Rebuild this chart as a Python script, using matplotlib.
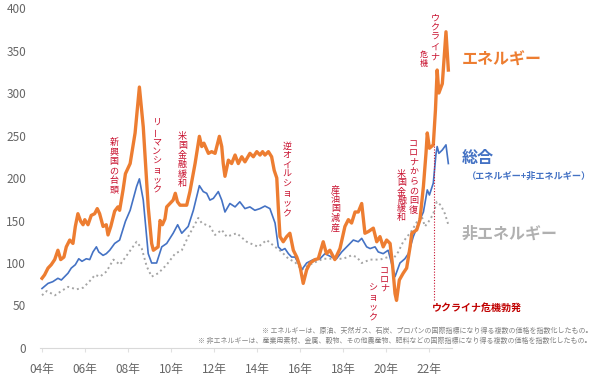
import matplotlib
matplotlib.use("Agg")
import matplotlib.pyplot as plt

plt.rcParams['font.family'] = ['Noto Sans CJK JP', 'DejaVu Sans']

# energy index (orange)
energy_t = [2004.0, 2004.12, 2004.28, 2004.43, 2004.59, 2004.74, 2004.87, 2005.02, 2005.13, 2005.29,
            2005.44, 2005.55, 2005.67, 2005.8, 2005.91, 2005.99, 2006.14, 2006.29, 2006.45, 2006.57,
            2006.68, 2006.84, 2006.99, 2007.07, 2007.2, 2007.38, 2007.53, 2007.61, 2007.77, 2007.88,
            2008.1, 2008.33, 2008.53, 2008.71, 2008.94, 2009.1, 2009.18, 2009.4, 2009.49, 2009.6,
            2009.72, 2009.8, 2010.1, 2010.2, 2010.3, 2010.42, 2010.73, 2010.88, 2011.12, 2011.32,
            2011.43, 2011.53, 2011.74, 2011.89, 2012.05, 2012.25, 2012.36, 2012.43, 2012.51, 2012.67,
            2012.82, 2012.98, 2013.13, 2013.29, 2013.44, 2013.67, 2013.83, 2013.99, 2014.14, 2014.26,
            2014.37, 2014.53, 2014.68, 2014.8, 2014.92, 2014.99, 2015.07, 2015.22, 2015.38, 2015.53,
            2015.69, 2015.85, 2016.0, 2016.15, 2016.31, 2016.47, 2016.7, 2016.85, 2017.08, 2017.23,
            2017.39, 2017.62, 2017.86, 2018.09, 2018.25, 2018.4, 2018.56, 2018.71, 2018.87, 2019.02,
            2019.18, 2019.41, 2019.57, 2019.72, 2019.87, 2020.03, 2020.19, 2020.31, 2020.42, 2020.49,
            2020.62, 2020.8, 2020.96, 2021.12, 2021.2, 2021.43, 2021.58, 2021.74, 2021.86, 2021.92,
            2022.02, 2022.2, 2022.3, 2022.38, 2022.46, 2022.62, 2022.79, 2022.9]
energy_v = [82, 86, 94, 98, 104, 115, 104, 107, 119, 127,
            123, 143, 158, 149, 145, 151, 145, 156, 158, 164,
            158, 143, 145, 133, 143, 161, 166, 162, 186, 205,
            217, 253, 307, 260, 166, 123, 115, 119, 150, 145,
            152, 166, 174, 182, 172, 168, 168, 184, 217, 249,
            237, 241, 229, 231, 229, 249, 237, 217, 202, 221,
            217, 227, 217, 225, 219, 229, 225, 231, 227, 231,
            227, 231, 225, 209, 200, 166, 131, 125, 131, 135,
            115, 107, 96, 76, 92, 100, 104, 105, 125, 111,
            115, 104, 117, 143, 151, 147, 160, 160, 170, 135,
            137, 141, 125, 131, 119, 127, 123, 96, 64, 56,
            80, 88, 94, 119, 135, 139, 151, 190, 229, 253,
            235, 239, 280, 327, 300, 311, 372, 327]

# total index (blue)
total_t = [2004.0, 2004.28, 2004.5, 2004.74, 2004.9, 2005.21, 2005.36, 2005.55, 2005.71, 2005.86,
           2006.06, 2006.22, 2006.37, 2006.53, 2006.64, 2006.84, 2006.99, 2007.15, 2007.38, 2007.61,
           2007.88, 2008.1, 2008.4, 2008.53, 2008.71, 2008.94, 2009.1, 2009.33, 2009.57, 2009.8,
           2010.1, 2010.31, 2010.5, 2010.8, 2011.04, 2011.32, 2011.5, 2011.66, 2011.81, 2011.97,
           2012.2, 2012.36, 2012.51, 2012.74, 2012.98, 2013.2, 2013.44, 2013.67, 2013.9, 2014.14,
           2014.37, 2014.6, 2014.84, 2014.99, 2015.15, 2015.3, 2015.46, 2015.61, 2015.77, 2016.08,
           2016.31, 2016.62, 2016.93, 2017.16, 2017.47, 2017.7, 2017.94, 2018.25, 2018.48, 2018.71,
           2018.87, 2019.1, 2019.26, 2019.49, 2019.64, 2019.87, 2020.1, 2020.42, 2020.65, 2020.88,
           2021.04, 2021.27, 2021.58, 2021.74, 2021.92, 2022.02, 2022.2, 2022.32, 2022.38, 2022.46,
           2022.62, 2022.79, 2022.9]
total_v = [70, 76, 78, 82, 80, 88, 94, 98, 105, 102,
           105, 104, 113, 119, 113, 109, 111, 115, 123, 127,
           149, 162, 190, 199, 174, 111, 100, 100, 119, 123,
           135, 145, 135, 143, 162, 191, 184, 182, 174, 176,
           184, 174, 160, 170, 166, 172, 164, 166, 162, 164,
           167, 164, 147, 119, 115, 117, 111, 107, 107, 92,
           100, 104, 105, 111, 107, 105, 113, 121, 127, 125,
           129, 119, 117, 119, 113, 111, 115, 84, 100, 105,
           111, 131, 151, 160, 186, 180, 194, 227, 237, 229,
           233, 239, 217]

# non-energy index (grey, dotted)
nonen_t = [2004.0, 2004.22, 2004.6, 2004.9, 2005.22, 2005.6, 2005.92, 2006.23, 2006.47, 2006.7,
           2007.0, 2007.32, 2007.63, 2007.86, 2008.17, 2008.4, 2008.64, 2008.87, 2009.1, 2009.41,
           2009.8, 2010.19, 2010.5, 2010.8, 2011.27, 2011.43, 2011.81, 2012.05, 2012.36, 2012.59,
           2013.06, 2013.52, 2014.06, 2014.45, 2014.84, 2015.15, 2015.46, 2015.77, 2016.08, 2016.31,
           2016.62, 2017.08, 2017.55, 2018.01, 2018.4, 2018.64, 2018.87, 2019.26, 2019.72, 2020.1,
           2020.34, 2020.57, 2020.8, 2021.2, 2021.43, 2021.66, 2021.81, 2022.05, 2022.2, 2022.36,
           2022.55, 2022.74, 2022.9]
nonen_v = [62, 67, 62, 67, 72, 69, 71, 79, 86, 84,
           90, 104, 98, 106, 117, 125, 117, 96, 84, 88,
           98, 111, 115, 131, 153, 147, 143, 133, 139, 131,
           135, 125, 119, 127, 119, 113, 105, 101, 92, 96,
           100, 105, 105, 105, 109, 107, 100, 104, 104, 107,
           105, 113, 125, 138, 148, 155, 143, 151, 158, 172,
           168, 158, 145]

years = [2004, 2006, 2008, 2010, 2012, 2014, 2016, 2018, 2020, 2022]
year_labels = ['04年', '06年', '08年', '10年', '12年', '14年', '16年', '18年', '20年', '22年']
ukraine_date = 2022.25

ORANGE = '#ED7D31'
BLUE = '#4472C4'
GREY = '#A5A5A5'
RED = '#C8102E'

fig = plt.figure(figsize=(6, 3.75), dpi=100)
ax = fig.add_axes([40/600, 1 - 348/375, 412/600, 340/375])

ax.plot(nonen_t, nonen_v, color=GREY, lw=1.4, ls=(0, (1, 1.6)))
ax.plot(total_t, total_v, color=BLUE, lw=1.2)
ax.plot(energy_t, energy_v, color=ORANGE, lw=2.4, solid_joinstyle='round')
ax.vlines(ukraine_date, 56, 240, color=RED, lw=0.8, ls=(0, (1, 1.5)))

ax.set_ylim(0, 400)
ax.set_xlim(2003.907, 2023.07)
ax.set_yticks(range(0, 401, 50))
ax.set_xticks(years)
ax.set_xticklabels(year_labels)
ax.tick_params(axis='y', length=0, pad=10, labelsize=8.5, labelcolor='#666666')
ax.tick_params(axis='x', length=3, color='#E0E0E0', pad=8, labelsize=8.5, labelcolor='#666666')
for s in ['top', 'right', 'left']:
    ax.spines[s].set_visible(False)
ax.spines['bottom'].set_color('#D9D9D9')


def px(x, y):
    return x / 600, 1 - y / 375


def vtext(x, ytop, s, step=9.5, size=6.5, color=RED):
    for i, ch in enumerate(s):
        rot = 90 if ch == 'ー' else 0
        fig.text(*px(x, ytop + step * (i + 0.5)), ch, ha='center', va='center',
                 fontsize=size, color=color, rotation=rot)


vtext(114, 138, '新興国の台頭')
vtext(156.5, 118, 'リーマンショック')
vtext(182.5, 131.5, '米国金融緩和')
vtext(287, 141.5, '逆オイルショック')
vtext(335.5, 185, '産油国減産')
vtext(384.5, 266, 'コロナ', step=9)
vtext(372.5, 283, 'ショック', step=9.7)
vtext(413.5, 138, 'コロナからの回復', step=9.6)
vtext(401.5, 170, '米国金融緩和', step=8.6)
vtext(435, 13, 'ウクライナ', step=9.7)
vtext(424, 50, '危機', step=9, size=5.8)

fig.text(*px(477, 308), 'ウクライナ危機勃発', ha='center', va='center', fontsize=7.2,
         fontweight='bold', color='#C00000')

fig.text(*px(462, 60), 'エネルギー', ha='left', va='center', fontsize=11.5,
         fontweight='bold', color=ORANGE)
fig.text(*px(462, 158), '総合', ha='left', va='center', fontsize=11.5,
         fontweight='bold', color=BLUE)
fig.text(*px(467, 176), '（エネルギー+非エネルギー）', ha='left', va='center', fontsize=6.6,
         fontweight='bold', color=BLUE)
fig.text(*px(462, 233.5), '非エネルギー', ha='left', va='center', fontsize=11.5,
         fontweight='bold', color='#B0B0B0')

fig.text(*px(592, 331), '※ エネルギーは、原油、天然ガス、石炭、プロパンの国際指標になり得る複数の価格を指数化したもの。',
         ha='right', va='center', fontsize=5, color='#808080')
fig.text(*px(592, 341), '※ 非エネルギーは、産業用素材、金属、穀物、その他農産物、肥料などの国際指標になり得る複数の価格を指数化したもの。',
         ha='right', va='center', fontsize=5, color='#808080')

fig.savefig('out.png', dpi=100, facecolor='white')
